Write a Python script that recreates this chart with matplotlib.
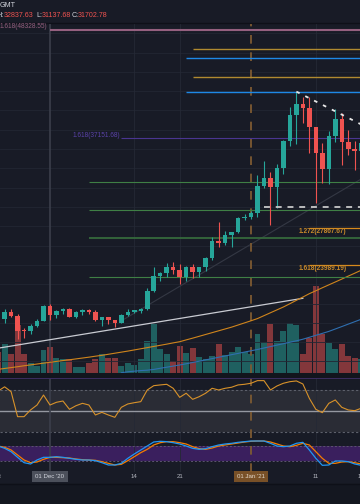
import matplotlib
matplotlib.use('Agg')
import matplotlib.pyplot as plt
import matplotlib.transforms as mtransforms
from matplotlib.patches import Rectangle
from matplotlib.lines import Line2D
import numpy as np

plt.rcParams['font.family'] = ['Liberation Sans', 'DejaVu Sans']

# daily candles, 23 Nov 2020 -> 18 Jan 2021
opens = [18410, 18370, 19150, 18720, 17150, 17140, 17720, 18180, 19700, 18790,
         19200, 19420, 18650, 19150, 19360, 19170, 18320, 18550, 18250, 18030,
         18800, 19170, 19270, 19440, 21340, 22800, 23110, 23820, 23460, 22720,
         23810, 23230, 23730, 24710, 26490, 26280, 27080, 27390, 28900, 28990,
         29410, 32200, 33000, 32030, 34050, 36860, 39490, 40670, 40240, 38240,
         35570, 33920, 37320, 39150, 36770, 36010, 35830]
highs = [18770, 19420, 19480, 18920, 17460, 17850, 18350, 19860, 19920, 19310,
         19570, 19520, 19180, 19420, 19420, 19300, 18640, 18560, 18280, 18950,
         19410, 19350, 19570, 21560, 23800, 23280, 24170, 24290, 24100, 23840,
         24100, 23780, 24780, 26870, 28420, 27500, 27410, 28990, 29300, 29600,
         33300, 34800, 33600, 34500, 36900, 40400, 41950, 41380, 41350, 38260,
         36630, 37850, 40100, 39750, 37950, 36850, 37400]
lows = [18000, 18020, 18570, 16330, 16440, 16880, 17520, 18180, 18320, 18510,
        18920, 18570, 18500, 18860, 18900, 18200, 17650, 17910, 17570, 18000,
        18700, 19000, 19050, 19300, 21230, 22350, 22750, 23060, 22000, 22350,
        22600, 22700, 23400, 24500, 25860, 26100, 25880, 27320, 28690, 28800,
        28950, 32000, 28130, 29900, 33400, 36300, 36500, 38720, 35550, 30420,
        32530, 32380, 36700, 34400, 35360, 33850, 34800]
closes = [18370, 19150, 18720, 17150, 17140, 17720, 18180, 19700, 18790, 19200,
          19420, 18650, 19150, 19360, 19170, 18320, 18550, 18250, 18030, 18800,
          19170, 19270, 19440, 21340, 22800, 23110, 23820, 23460, 22720, 23810,
          23230, 23730, 24710, 26490, 26280, 27080, 27390, 28900, 28990, 29410,
          32200, 33000, 32030, 34050, 36860, 39490, 40670, 40240, 38240, 35570,
          33920, 37320, 39150, 36770, 36010, 35830, 36630]
volumes = [61, 83, 56, 138, 56, 29, 19, 68, 74, 43, 40, 40, 16, 16, 28, 40, 56, 43,
           43, 21, 28, 22, 42, 94, 143, 71, 54, 34, 79, 59, 73, 46, 42, 48, 83, 51,
           61, 74, 61, 56, 112, 90, 141, 93, 121, 145, 138, 54, 102, 252, 114, 87,
           69, 84, 48, 44, 41]

# moving averages (white from day 0, blue from day 19)
ma_white = [15370, 15480, 15590, 15700, 15810, 15920, 16030, 16140, 16250, 16360,
            16470, 16580, 16690, 16800, 16910, 17020, 17130, 17240, 17350, 17460,
            17570, 17680, 17790, 17900, 18010, 18120, 18230, 18340, 18450, 18560,
            18670, 18780, 18890, 19000, 19110, 19220, 19330, 19440, 19550, 19660,
            19770, 19880, 19990, 20100, 20210, 20320, 20430, 20540]
ma_orange = [13180, 13270, 13360, 13450, 13550, 13640, 13730, 13820, 13910, 14000,
             14090, 14170, 14260, 14350, 14440, 14540, 14630, 14740, 14850, 14960,
             15070, 15190, 15310, 15430, 15550, 15670, 15790, 15920, 16040, 16230,
             16410, 16600, 16790, 16980, 17170, 17360, 17550, 17770, 17990, 18210,
             18440, 18740, 19040, 19340, 19640, 19980, 20330, 20670, 21020, 21320,
             21630, 21930, 22230, 22530, 22840, 23140, 23450]
ma_blue_start = 19
ma_blue = [12830, 12925, 12990, 13050, 13090, 13170, 13290, 13400, 13515, 13630,
           13755, 13890, 14020, 14160, 14290, 14430, 14560, 14700, 14830, 14970,
           15100, 15235, 15390, 15535, 15690, 15835, 15990, 16135, 16300, 16500,
           16705, 16905, 17110, 17360, 17610, 17865, 18115, 18370]

rsi = [69, 73, 68.4, 44.6, 44.6, 51, 55.7, 65.2, 55.7, 58.3,
       59.5, 51.6, 55, 57.3, 55.7, 46.2, 48.7, 46.2, 44, 53.5,
       56.7, 57.9, 58.9, 70, 74.1, 74.8, 75.4, 71.6, 63, 66.9,
       61.1, 63.6, 66.9, 71.6, 70, 71.6, 72.6, 74.8, 75.4, 76.4,
       78.9, 78.9, 70, 73.8, 76.4, 77.9, 78.6, 75.7, 62, 51.6,
       48.4, 57.3, 60.5, 53.5, 51, 50.3, 52.6]
stoch_k = [80, 70.7, 57.3, 34.7, 13.3, 8, 24, 34.7, 34.7, 37.3,
           34.7, 30.7, 26.7, 24, 24, 21.3, 13.3, 4, 4, 10.7,
           30.7, 48, 64, 80, 96, 98.7, 97.3, 93.3, 88, 80,
           70.7, 66.7, 69.3, 77.3, 84, 88, 90.7, 94.7, 97.3, 100,
           100, 100, 90.7, 80, 77.3, 80, 90.7, 94.7, 64, 30.7,
           2.7, 4, 20, 20, 17.3, 8, 2.7]
stoch_d = [80, 74.7, 64, 44, 24, 13.3, 16, 26.7, 34.7, 34.7,
           33.3, 32, 28, 25.3, 24, 22.7, 17.3, 10.7, 4, 6.7,
           21.3, 37.3, 53.3, 66.7, 84, 93.3, 97.3, 97.3, 93.3, 88,
           77.3, 69.3, 66.7, 72, 80, 84, 88, 92, 96, 98.7,
           100, 100, 96, 88, 80, 77.3, 82.7, 90.7, 84, 57.3,
           30.7, 10.7, 10.7, 16, 17.3, 13.3, 8]

# horizontal levels: (price, start day, colour, width)
levels = [(48328.55, 8, '#94607f', 1.5),
          (46367, 30, '#b08a30', 1.0),
          (45383, 29, '#1e88e5', 1.0),
          (43466, 30, '#b08a30', 1.0),
          (41912, 29, '#1e88e5', 1.0),
          (37151.68, 19, '#4a3590', 0.8),
          (32557, 14, '#3f7f45', 0.8),
          (29656, 14, '#3f7f45', 0.8),
          (26817, 14, '#35693c', 1.3),
          (22715, 14, '#3f7f45', 0.8),
          (27867.67, 48, '#d88a1c', 0.9),
          (23989.19, 48, '#d88a1c', 0.9)]
white_level = (30029, 41)
down_trend = ([46, 56], [41950, 38550])
up_trend = ([19, 56], [18200, 32900])

tick_days = [0, 21, 28, 49, 56]
tick_labels = ['23', '14', '21', '11', '18']
dec_day, jan_day = 8, 39

BG = '#181b26'
GREEN, RED = '#26a69a', '#ef5350'
W, H = 360, 504
XLIM = (0.29, 55.81)

fig = plt.figure(figsize=(3.6, 5.04), dpi=100)
fig.patch.set_facecolor(BG)


def pane(top, bottom):
    ax = fig.add_axes([0, 1 - bottom / H, 1, (bottom - top) / H])
    ax.set_facecolor('none')
    ax.set_xlim(*XLIM)
    for s in ax.spines.values():
        s.set_visible(False)
    ax.set_xticks([])
    ax.set_yticks([])
    return ax


x = np.arange(len(closes))

# main price pane
ax = pane(23.5, 373)
ax.set_ylim(12800, 49008)
for p in range(14000, 50000, 2000):
    ax.axhline(p, color='#222633', lw=0.6, zorder=0)

vax = ax.twinx()
vax.set_ylim(0, 1014)
vax.set_axis_off()
up = [c >= o for o, c in zip(opens, closes)]
vax.bar(x, volumes, width=0.92, color=[GREEN if u else RED for u in up], alpha=0.5, zorder=1)

ax.set_zorder(2)
ax.plot(x[:len(ma_white)], ma_white, color='#c9cbd2', lw=0.9, zorder=2)
ax.plot(x, ma_orange, color='#d0851c', lw=0.8, zorder=2)
ax.plot(x[ma_blue_start:ma_blue_start + len(ma_blue)], ma_blue, color='#2f6fb0', lw=0.8, zorder=2)
ax.plot(up_trend[0], up_trend[1], color='#343844', lw=0.8, zorder=1)

for price, start, col, lw in levels:
    ax.plot([start, XLIM[1] + 1], [price, price], color=col, lw=lw, zorder=2, solid_capstyle='butt')
ax.plot([white_level[1], XLIM[1] + 1], [white_level[0]] * 2, color='#c8c8c8', lw=1.3,
        linestyle=(0, (3.3, 3.2)), zorder=4)
ax.plot(down_trend[0], down_trend[1], color='#e8e8e8', lw=1.3,
        linestyle=(0, (2.0, 3.5)), zorder=4)

colors = [GREEN if u else RED for u in up]
ax.vlines(x, lows, highs, colors=colors, lw=0.8, zorder=3)
bodies = [max(abs(c - o), 110) for o, c in zip(opens, closes)]
ax.bar(x, bodies, bottom=[min(o, c) for o, c in zip(opens, closes)], width=0.7,
       color=colors, zorder=3)

# level labels
lab = dict(fontsize=4.7, va='center', ha='left', zorder=5)
ax.text(0.27, 48328.55 + 350, '1.618(48328.55)', color='#94607f', **lab)
ax.text(11.55, 37151.68 + 300, '1.618(37151.68)', color='#5a42a8', **lab)
ax.text(46.3, 27867.67 - 440, '1.272(27867.67)', color='#c98a2a', fontweight='bold', **lab)
ax.text(46.3, 23989.19 - 390, '1.618(23989.19)', color='#c98a2a', fontweight='bold', **lab)

# RSI pane
rax = pane(378, 438)
rax.set_ylim(24.3, 81.4)
rax.axhspan(30, 70, color='#2a2c35', lw=0, zorder=0)
for v in (30, 70):
    rax.axhline(v, color='#5d606b', lw=0.8, linestyle=(0, (2, 2)), zorder=1)
rax.axhline(50, color='#9598a1', lw=1.0, zorder=1)
rax.plot(x, rsi, color='#d8922a', lw=0.8, zorder=3)

# stochastic pane
sax = pane(438, 472)
sax.set_ylim(-24, 112)
sax.axhspan(20, 80, color='#3a1f5e', lw=0, zorder=0)
for v in (20, 80):
    sax.axhline(v, color='#5d5470', lw=0.7, linestyle=(0, (2, 2)), zorder=1)
sax.plot(x, stoch_d, color='#f57c00', lw=0.9, zorder=3)
sax.plot(x, stoch_k, color='#2196f3', lw=0.9, zorder=3)

# vertical markers across panes
for a in (ax, rax, sax):
    for d in (21, 28, 49):
        a.axvline(d, color='#252935', lw=0.6, zorder=0)
    a.axvline(dec_day, color='#3b3f4b', lw=1.2, zorder=1)
    a.axvline(jan_day, color='#7d5a32', lw=1.3, linestyle=(0, (4.8, 4.8)), zorder=1)

# separators and bottom strip
fig.add_artist(Rectangle((0, 1 - 378 / H), 1, 5 / H, transform=fig.transFigure,
                         color='#12151d', zorder=0))
fig.add_artist(Line2D([0, 1], [1 - 377.5 / H] * 2, color='#3b2d60', lw=0.7))
fig.add_artist(Line2D([0, 1], [1 - 23.3 / H] * 2, color='#0e1018', lw=1.0))
fig.add_artist(Rectangle((0, 0), 1, 1 - 483.5 / H, transform=fig.transFigure,
                         color='#141720', zorder=0))
fig.add_artist(Line2D([0, 1], [1 - 483.5 / H] * 2, color='#0e1018', lw=1.0))

# time axis
tr = mtransforms.blended_transform_factory(sax.transData, fig.transFigure)
ty = 1 - 476.5 / H
for d, t in zip(tick_days, tick_labels):
    fig.text(d, ty, t, transform=tr, fontsize=4.4, color='#b2b5be', ha='center', va='center')
fig.text(jan_day, ty, '2021', transform=tr, fontsize=4.4, color='#b2b5be', ha='center', va='center')
fig.text(dec_day, ty, "01 Dec '20", transform=tr, fontsize=4.4, color='#d1d4dc', ha='center', va='center',
         bbox=dict(boxstyle='square,pad=0.55', fc='#4c505b', ec='none'))
fig.text(jan_day, ty, "01 Jan '21", transform=tr, fontsize=4.4, color='#e0d6c8', ha='center', va='center',
         bbox=dict(boxstyle='square,pad=0.55', fc='#8a5a28', ec='none', alpha=0.85))

# header
hdr = dict(fontsize=5.1, va='center', ha='left')
fig.text(0 / W, 1 - 5.8 / H, 'GMT', color='#d1d4dc', **hdr)
hy = 1 - 15.8 / H
fig.text(-3.2 / W, hy, 'H:', color='#d1d4dc', **hdr)
fig.text(4.2 / W, hy, '32837.63', color=RED, **hdr)
fig.text(36 / W, hy, 'L:', color='#d1d4dc', **hdr)
fig.text(41.5 / W, hy, '31137.68', color=RED, **hdr)
fig.text(72 / W, hy, 'C:', color='#d1d4dc', **hdr)
fig.text(78 / W, hy, '31702.78', color=RED, **hdr)

fig.savefig('out.png', dpi=100, facecolor=BG)
